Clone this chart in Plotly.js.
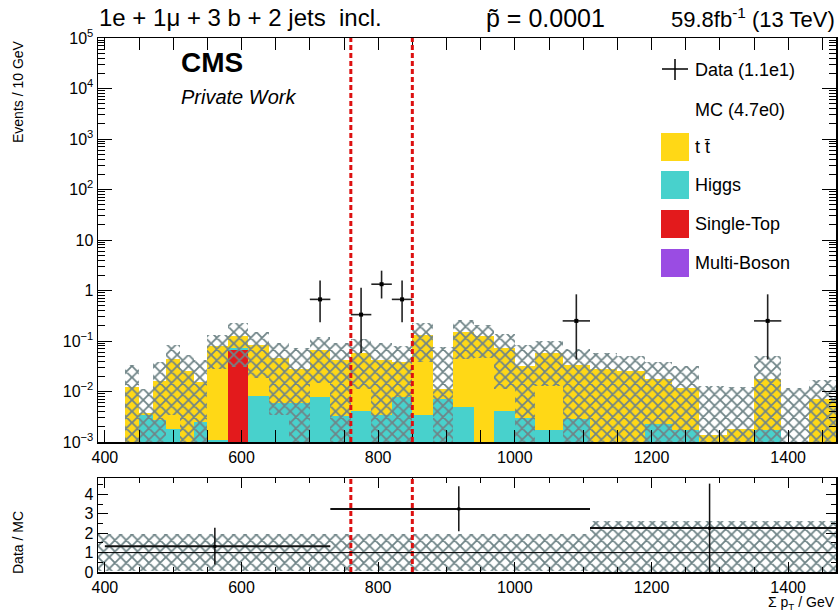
<!DOCTYPE html>
<html><head><meta charset="utf-8">
<script src="https://cdn.plot.ly/plotly-3.0.1.min.js"></script>
<style>html,body{margin:0;padding:0;background:#fff}#plot{width:838px;height:612px}</style>
</head><body><div id="plot"></div>
<script>
// ---- data ----
const binEdges = [430,450,470,490,510,530,550,580,610,640,670,700,730,760,790,820,850,880,910,940,970,1000,1030,1070,1110,1150,1190,1230,1270,1310,1350,1390,1430,1470];
const ttbar = [0.0118,0.0003,0.0137,0.0417,0.0252,0.0131,0.0785,0.0534,0.0753,0.0409,0.0227,0.0586,0.0388,0.0551,0.0386,0.0304,0.1281,0.0041,0.1481,0.1268,0.0695,0.0295,0.0553,0.0306,0.0283,0.0248,0.0152,0.0099,0.0013,0.0017,0.0158,0.0007,0.0069];
const higgs = [0.0003,0.0034,0.0027,0.0018,0.0003,0.0025,0.0011,0.0072,0.0081,0.0058,0.0058,0.0078,0.0032,0.0041,0.0034,0.0078,0.0034,0.0070,0.0049,0.0002,0.0041,0.0030,0.0017,0.0029,0.0002,0.0002,0.0023,0.0017,0.0001,0.0001,0.0017,0.0001,0.0001];
const singleTop = [0,0,0,0,0,0,0,0.0664,0,0,0,0,0,0,0,0,0,0,0,0,0,0,0,0,0,0,0,0,0,0,0,0,0];
const multiBoson = [0,0,0,0,0,0,0,0,0,0,0,0,0,0,0,0,0,0,0,0,0,0,0,0,0,0,0,0,0,0,0,0,0];
const mcUnc = [0.0214,0.0074,0.022,0.040,0.0273,0.0264,0.0514,0.097,0.065,0.0433,0.043,0.0516,0.048,0.048,0.048,0.041,0.0925,0.066,0.108,0.0805,0.0624,0.051,0.0444,0.035,0.0285,0.025,0.0214,0.0204,0.0114,0.0103,0.033,0.0111,0.0099];

const dataX = [715,775,805,835,1090,1370];
const dataXErr = [15,15,15,15,20,20];
const dataY = [0.667,0.333,1.333,0.667,0.25,0.25];
const dataYHigh = [1.58,1.13,2.47,1.58,0.84,0.84];
const dataYLow = [0.236,0.058,0.695,0.236,0.043,0.043];

const ratioEdges = [390,730,1110,1470];
const ratioBand = [0.97,0.97,1.62];
const ratioX = [561,918,1285];
const ratioXLow = [400,730,1110];
const ratioXHigh = [730,1110,1470];
const ratioY = [1.32,3.25,2.26];
const ratioYHigh = [2.28,4.41,4.55];
const ratioYLow = [0.39,2.10,0];

const cutLines = [760,850];
const yTickVals = [1e-3,1e-2,1e-1,1,10,1e2,1e3,1e4,1e5];
const yTickText = ['10<sup>\u22123</sup>','10<sup>\u22122</sup>','10<sup>\u22121</sup>','1','10','10<sup>2</sup>','10<sup>3</sup>','10<sup>4</sup>','10<sup>5</sup>'];
const xTickVals = [400,600,800,1000,1200,1400];

// ---- derived ----
const centers = [], widths = [];
for (let i = 0; i < binEdges.length - 1; i++) {
  centers.push((binEdges[i] + binEdges[i+1]) / 2);
  widths.push(binEdges[i+1] - binEdges[i]);
}
const cumMB = multiBoson.slice();
const cumST = cumMB.map((v,i)=>v+singleTop[i]);
const cumH = cumST.map((v,i)=>v+higgs[i]);
const cumT = cumH.map((v,i)=>v+ttbar[i]);
const bandBase = cumT.map((v,i)=>Math.max(v-mcUnc[i],1e-6));
const bandTop = cumT.map((v,i)=>v+mcUnc[i]);
const bandH = bandTop.map((v,i)=>v-bandBase[i]);

const rCenters = [], rWidths = [];
for (let i = 0; i < ratioEdges.length - 1; i++) {
  rCenters.push((ratioEdges[i]+ratioEdges[i+1])/2);
  rWidths.push(ratioEdges[i+1]-ratioEdges[i]);
}
const rBase = ratioBand.map(u=>Math.max(1-u,0));
const rH = ratioBand.map((u,i)=>1+u-rBase[i]);

// log-axis minor tick positions (2..9 x 10^k)
const yMinorVals = [];
for (let k = -3; k < 5; k++) for (let m = 2; m <= 9; m++) yMinorVals.push(m * Math.pow(10, k));

const C_TT = '#ffd816', C_H = '#48d1cc', C_ST = '#e31a1c', C_MB = '#9a4ce3', C_HATCH = '#6f8487';
const hatch = {shape:'x', fgcolor:C_HATCH, bgcolor:'rgba(0,0,0,0)', size:8, solidity:0.4};

function stackBar(y, color) {
  return {type:'bar', x:centers, y:y, width:widths, xaxis:'x', yaxis:'y',
    marker:{color:color, line:{width:0}}, hoverinfo:'skip'};
}
const traces = [
  stackBar(cumT, C_TT),
  stackBar(cumH, C_H),
  stackBar(cumST, C_ST),
  stackBar(cumMB, C_MB),
  {type:'bar', x:centers, y:bandH, base:bandBase, width:widths, xaxis:'x', yaxis:'y',
   marker:{color:'rgba(0,0,0,0)', line:{width:0}, pattern:hatch}, hoverinfo:'skip'},
  {type:'scatter', mode:'markers', x:dataX, y:dataY, xaxis:'x', yaxis:'y',
   marker:{symbol:'square', size:4, color:'#000'},
   error_x:{type:'data', array:dataXErr, color:'#222', thickness:1.6, width:0},
   error_y:{type:'data', symmetric:false, array:dataYHigh.map((v,i)=>v-dataY[i]), arrayminus:dataY.map((v,i)=>v-dataYLow[i]), color:'#222', thickness:1.6, width:0}},
  {type:'bar', x:rCenters, y:rH, base:rBase, width:rWidths, xaxis:'x2', yaxis:'y2',
   marker:{color:'rgba(0,0,0,0)', line:{width:0}, pattern:hatch}, hoverinfo:'skip'},
  {type:'scatter', mode:'markers', x:ratioX, y:ratioY, xaxis:'x2', yaxis:'y2',
   marker:{symbol:'square', size:3, color:'#000'},
   error_x:{type:'data', symmetric:false, array:ratioXHigh.map((v,i)=>v-ratioX[i]), arrayminus:ratioX.map((v,i)=>v-ratioXLow[i]), color:'#111', thickness:2, width:0},
   error_y:{type:'data', symmetric:false, array:ratioYHigh.map((v,i)=>v-ratioY[i]), arrayminus:ratioY.map((v,i)=>v-ratioYLow[i]), color:'#111', thickness:1.5, width:0}},
  {type:'scatter', mode:'markers', x:[], y:[], xaxis:'x', yaxis:'y3', hoverinfo:'skip'},
  {type:'scatter', mode:'markers', x:[], y:[], xaxis:'x', yaxis:'y4', hoverinfo:'skip'}
];

const FONT = 'Liberation Sans, Arial, sans-serif';
const axisBase = {showline:true, linecolor:'#000', linewidth:1.5, mirror:'allticks', ticks:'inside',
  tickcolor:'#000', showgrid:false, zeroline:false, tickfont:{family:FONT, size:16, color:'#000'}};

const L = 98, R = 836, T = 38, B = 572;
const px = x => (x - L) / (R - L);
const py = y => (B - y) / (B - T);

const shapes = [];
cutLines.forEach(c => {
  shapes.push({type:'line', xref:'x', yref:'y domain', x0:c, x1:c, y0:0, y1:1, line:{color:'#dd1010', width:3, dash:'5px,3px'}});
  shapes.push({type:'line', xref:'x2', yref:'y2 domain', x0:c, x1:c, y0:0, y1:1, line:{color:'#dd1010', width:3, dash:'5px,3px'}});
});
shapes.push({type:'line', xref:'x2 domain', yref:'y2', x0:0, x1:1, y0:1, y1:1, line:{color:'#000', width:1}});

// legend (drawn manually, ROOT style)
const legItems = [
  {label:'t t\u0304', color:C_TT, yc:147},
  {label:'Higgs', color:C_H, yc:185},
  {label:'Single-Top', color:C_ST, yc:224},
  {label:'Multi-Boson', color:C_MB, yc:263}
];
legItems.forEach(it => {
  shapes.push({type:'rect', xref:'paper', yref:'paper', x0:px(661), x1:px(689), y0:py(it.yc+14), y1:py(it.yc-14), fillcolor:it.color, line:{width:0}});
});
shapes.push({type:'line', xref:'paper', yref:'paper', x0:px(662), x1:px(688), y0:py(69), y1:py(69), line:{color:'#000', width:1.5}});
shapes.push({type:'line', xref:'paper', yref:'paper', x0:px(675), x1:px(675), y0:py(59), y1:py(80), line:{color:'#000', width:1.5}});

const ann = (text, x, y, opts={}) => Object.assign({text, xref:'paper', yref:'paper', x:px(x), y:py(y), showarrow:false,
  xanchor:'left', yanchor:'middle', font:{family:FONT, size:18, color:'#000'}}, opts);

const annotations = [
  ann('1e + 1\u03bc + 3 b + 2 jets  incl.', 97, 18, {font:{family:FONT, size:24, color:'#000'}}),
  ann('p\u0303 = 0.0001', 484, 18, {font:{family:FONT, size:25, color:'#000'}}),
  ann('59.8fb<sup>-1</sup> (13 TeV)', 837, 18, {xanchor:'right', font:{family:FONT, size:22, color:'#000'}}),
  ann('<b>CMS</b>', 179, 62, {font:{family:FONT, size:28, color:'#000'}}),
  ann('<i>Private Work</i>', 179, 97, {font:{family:FONT, size:20, color:'#000'}}),
  ann('Data (1.1e1)', 693, 70),
  ann('MC (4.7e0)', 693, 110),
  ann('Events / 10 GeV', 18, 92, {xanchor:'center', textangle:-90, font:{family:FONT, size:14, color:'#000'}}),
  ann('Data / MC', 18, 543, {xanchor:'center', textangle:-90, font:{family:FONT, size:14, color:'#000'}}),
  ann('\u03a3 p<sub>T</sub> / GeV', 837, 603, {xanchor:'right', font:{family:FONT, size:14, color:'#000'}})
];
legItems.forEach(it => annotations.push(ann(it.label, 693, it.yc)));

const minorY = side => ({overlaying:'y', anchor:'x', side:side, type:'log', range:[-3,5], tickvals:yMinorVals, ticks:'inside', ticklen:7,
    tickcolor:'#000', showticklabels:false, showline:false, showgrid:false, zeroline:false});

const layout = {
  width:838, height:612,
  margin:{l:L, r:838-R, t:T, b:612-B, pad:0},
  paper_bgcolor:'#fff', plot_bgcolor:'#fff',
  showlegend:false, barmode:'overlay', bargap:0,
  font:{family:FONT, color:'#000'},
  xaxis:Object.assign({}, axisBase, {domain:[0,1], anchor:'y', range:[390,1470], tickvals:xTickVals, ticklen:12,
    minor:{dtick:50, tick0:0, ticks:'inside', ticklen:6, tickcolor:'#000'}}),
  yaxis:Object.assign({}, axisBase, {domain:[py(442),1], anchor:'x', type:'log', range:[-3,5], tickvals:yTickVals, ticktext:yTickText, ticklen:14}),
  yaxis3:minorY('left'),
  yaxis4:minorY('right'),
  xaxis2:Object.assign({}, axisBase, {domain:[0,1], anchor:'y2', range:[390,1470], tickvals:xTickVals, ticklen:10, matches:'x',
    minor:{dtick:50, tick0:0, ticks:'inside', ticklen:5, tickcolor:'#000'}}),
  yaxis2:Object.assign({}, axisBase, {domain:[0,py(478)], anchor:'x2', range:[0,4.84], tickvals:[0,1,2,3,4], ticklen:10,
    minor:{dtick:0.5, ticks:'inside', ticklen:5, tickcolor:'#000'}}),
  shapes, annotations
};

Plotly.newPlot('plot', traces, layout, {staticPlot:true, displayModeBar:false});
</script></body></html>
